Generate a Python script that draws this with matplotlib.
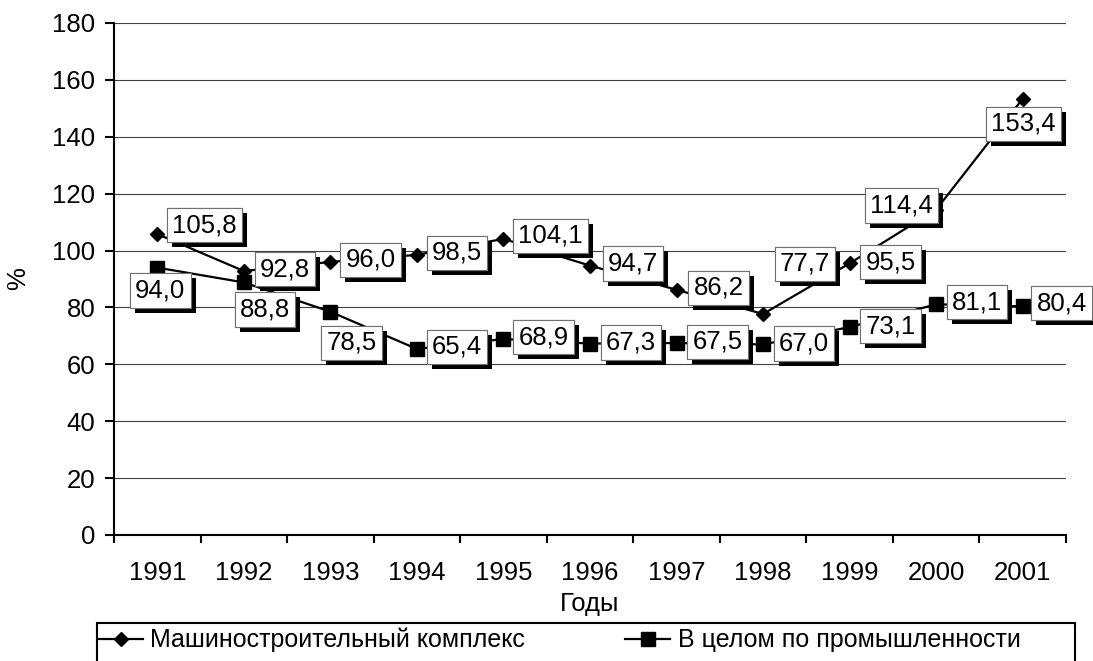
#coding=utf-8
# Машиностроительный комплекс vs промышленность в целом, % к предыдущему году
import numpy as np
import matplotlib
matplotlib.use('Agg')
import matplotlib.pyplot as plt
import matplotlib.patheffects as pe
from matplotlib.patches import Rectangle

FS = 18.5
plt.rcParams['font.family'] = ['Liberation Sans', 'DejaVu Sans']
plt.rcParams['font.size'] = FS

years = ['1991', '1992', '1993', '1994', '1995', '1996', '1997', '1998', '1999', '2000', '2001']
mash = [105.8, 92.8, 96.0, 98.5, 104.1, 94.7, 86.2, 77.7, 95.5, 114.4, 153.4]
prom = [94.0, 88.8, 78.5, 65.4, 68.9, 67.3, 67.5, 67.0, 73.1, 81.1, 80.4]
yticks = [0, 20, 40, 60, 80, 100, 120, 140, 160, 180]

# сдвиги подписей (в пикселях, вправо / вниз), как они стоят на исходной картинке
mash_off = [(47, -9), (41, -2), (40, -2), (40, -2), (47, -3), (43, -2), (42, -2),
            (42, -50), (41, -1), (-35, -4), (1, 25)]
prom_off = [(3, 23), (21, 27), (21, 31), (40, -2), (40, -2), (41, -1), (41, -1),
            (41, -1), (41, -1), (41, -2), (39, -3)]

def fmt(v):
    return ('%.1f' % v).replace('.', ',')

W, H = 1093, 661
fig = plt.figure(figsize=(W/100, H/100), dpi=100)
ax = fig.add_axes([114/W, 126/H, 952/W, 512/H])

x = np.arange(len(years))
l1, = ax.plot(x, mash, color='black', lw=1.6, marker='D', ms=7, zorder=3,
              label='Машиностроительный комплекс')
l2, = ax.plot(x, prom, color='black', lw=1.6, marker='s', ms=10.5, zorder=3,
              label='В целом по промышленности')

px = 72.0 / 100  # пиксели -> пункты
for vals, offs in ((mash, mash_off), (prom, prom_off)):
    for i, v in enumerate(vals):
        dx, dy = offs[i]
        t = ax.annotate(fmt(v), (x[i], v), xytext=(dx*px, -dy*px), textcoords='offset points',
                        ha='center', va='center', fontsize=FS, zorder=5,
                        bbox=dict(boxstyle='square,pad=0.2', fc='white', ec='#707070', lw=0.8))
        t.get_bbox_patch().set_path_effects([
            pe.withSimplePatchShadow(offset=(3.6, -3.6), shadow_rgbFace='black', alpha=1.0),
            pe.Normal()])

ax.set_xlim(-0.5, len(years) - 0.5)
ax.set_ylim(0, 180)
ax.set_yticks(yticks)
ax.yaxis.grid(True, color='#404040', lw=0.8)
ax.set_axisbelow(True)

ax.set_xticks(np.arange(-0.5, len(years), 1))
ax.set_xticklabels([])
ax.set_xticks(x, minor=True)
ax.set_xticklabels(years, minor=True)
ax.tick_params(axis='x', which='major', length=6, width=1.5, direction='out')
ax.tick_params(axis='x', which='minor', length=0, pad=19)
ax.tick_params(axis='y', length=6.5, width=1.5, pad=7)

for s in ['top', 'right']:
    ax.spines[s].set_visible(False)
for s in ['left', 'bottom']:
    ax.spines[s].set_linewidth(1.5)

fig.text(18/W, 1 - 279/H, '%', rotation=90, ha='center', va='center', fontsize=FS)
fig.text(590/W, 1 - 604/H, 'Годы', ha='center', va='center', fontsize=FS)

# легенда: без своей рамки, рамка рисуется отдельно на всю ширину
LFS = 18
leg = fig.legend(handles=[l1, l2], loc='upper left',
                 bbox_to_anchor=(98/W, 1 - 628/H),
                 ncol=2, borderaxespad=0, borderpad=0, columnspacing=4.0,
                 frameon=False, handlelength=1.8, handletextpad=0.3, fontsize=LFS)
leg.legend_handles[1].set_markersize(9.5)
fig.patches.append(Rectangle((97/W, (H - 668)/H), 978/W, 45/H, transform=fig.transFigure,
                             fill=False, ec='black', lw=1.5))

fig.savefig('out.png', dpi=100)
